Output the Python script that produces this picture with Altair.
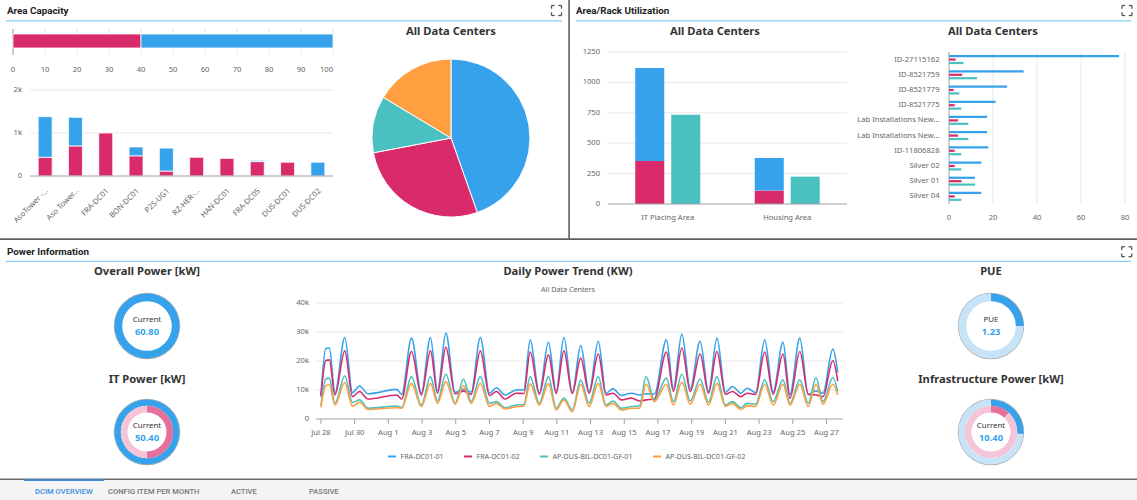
import altair as alt
import pandas as pd

# ---------------------------------------------------------------- canvas & palette
W, H = 1137, 500
BLUE = "#36a2eb"
PINK = "#d92b6b"
TEAL = "#4bc0c0"
ORANGE = "#ff9f40"
PINK_ARC = "#e6709b"
PINK_TRACK = "#f5c5d7"
BLUE_TRACK = "#c6e3f8"
GRID = "#e8e8e8"
BASE = "#a0a0a0"
LABEL = "#666666"
TITLE = "#333333"
FONT = "Noto Sans"
HEAD_FONT = "Roboto"
TICK_SIZE = 7.6

# ---------------------------------------------------------------- data
# Area Capacity: overall used / free split in percent
split_segments = ["Used", "Free"]
split_percent = [40, 60]
split_ticks = list(range(0, 101, 10))

# Area Capacity per site
site_names = ["AsoTower -...", "Aso Tower...", "FRA-DC01", "BON-DC01", "P2S-UG1",
              "RZ-HER-...", "HAN-DC01", "FRA-DC05", "DUS-DC01", "DUS-DC02"]
site_used = [435, 700, 1000, 470, 115, 435, 410, 335, 320, 0]
site_free = [945, 665, 0, 205, 535, 0, 0, 30, 0, 320]
site_ticks = [0, 1000, 2000]

# Area share by status (all data centers)
share_status = ["Free", "Occupied", "Reserved", "Planned"]
share_area = [44.6, 27.4, 11.6, 16.4]

# Area / rack utilization by area type
util_areas = ["IT Placing Area", "Housing Area"]
util_used = [354, 110]
util_free = [765, 269]
util_racks = [734, 225]
util_ticks = [0, 250, 500, 750, 1000, 1250]

# Utilization per room
room_labels = ["ID-27115162", "ID-8521759", "ID-8521779", "ID-8521775",
               "Lab Installations New...", "Lab Installations New...",
               "ID-11806828", "Silver 02", "Silver 01", "Silver 04"]
room_series = ["Area", "Used", "Racks"]
room_area = [77.3, 33.9, 26.4, 21.2, 17.3, 17.3, 17.9, 14.7, 11.8, 14.7]
room_used = [3.0, 6.0, 2.1, 2.6, 4.1, 4.1, 2.6, 2.6, 5.7, 2.6]
room_racks = [6.6, 12.7, 4.7, 5.6, 8.8, 8.8, 5.6, 5.6, 11.9, 5.6]
room_ticks = [0, 20, 40, 60, 80]

# Daily power trend (kW)
trend_series = ["FRA-DC01-01", "FRA-DC01-02", "AP-DUS-BIL-DC01-GF-01", "AP-DUS-BIL-DC01-GF-02"]
trend_time = [
    "2024-07-28T00:00", "2024-07-28T07:00", "2024-07-28T12:00", "2024-07-28T20:00",
    "2024-07-29T10:00", "2024-07-29T21:00", "2024-07-30T07:00", "2024-07-30T19:00",
    "2024-08-01T12:00", "2024-08-01T19:00", "2024-08-02T09:00", "2024-08-02T23:00",
    "2024-08-03T12:00", "2024-08-03T22:00", "2024-08-04T10:00", "2024-08-04T23:00",
    "2024-08-05T11:00", "2024-08-05T22:00", "2024-08-06T11:00", "2024-08-07T00:00",
    "2024-08-07T10:00", "2024-08-07T22:00", "2024-08-08T14:00", "2024-08-09T01:00",
    "2024-08-09T10:00", "2024-08-09T23:00", "2024-08-10T12:00", "2024-08-10T23:00",
    "2024-08-11T10:00", "2024-08-11T22:00", "2024-08-12T10:00", "2024-08-12T22:00",
    "2024-08-13T11:00", "2024-08-13T22:00", "2024-08-14T08:00", "2024-08-14T20:00",
    "2024-08-15T10:00", "2024-08-15T22:00", "2024-08-16T07:00", "2024-08-16T19:00",
    "2024-08-17T12:00", "2024-08-17T22:00", "2024-08-18T10:00", "2024-08-18T22:00",
    "2024-08-19T12:00", "2024-08-20T00:00", "2024-08-20T12:00", "2024-08-21T00:00",
    "2024-08-21T10:00", "2024-08-21T22:00", "2024-08-22T07:00", "2024-08-22T19:00",
    "2024-08-23T08:00", "2024-08-23T20:00", "2024-08-24T10:00", "2024-08-24T20:00",
    "2024-08-25T10:00", "2024-08-25T22:00", "2024-08-26T09:00", "2024-08-26T19:00",
    "2024-08-27T09:00", "2024-08-27T16:00",
]
trend_fra01 = [
    8300, 24300, 24500, 8900, 28100, 9100, 11400, 8700, 10200, 8500, 27900, 8900,
    28100, 9700, 29600, 9200, 10200, 9300, 28100, 8900, 10800, 8300, 10000, 10100,
    27300, 8900, 26500, 9500, 28100, 9200, 25300, 9500, 26800, 8900, 10400, 8100,
    8900, 8300, 8700, 8600, 27300, 10600, 29300, 10400, 26800, 9500, 27900, 9200,
    11200, 8900, 10600, 9100, 27300, 9200, 26500, 8500, 27900, 8500, 9700, 8900,
    24100, 16100,
]
trend_fra02 = [
    7700, 20200, 20400, 8300, 23500, 7700, 9500, 6900, 8300, 6900, 23300, 8300,
    23500, 8900, 24800, 8700, 9600, 8500, 23500, 8100, 9500, 6900, 8900, 8800,
    23100, 8500, 22100, 8800, 23500, 8800, 21000, 8900, 22400, 8300, 8900, 6600,
    7200, 6200, 6600, 6900, 23100, 9500, 24500, 9500, 22400, 8900, 23300, 8500,
    9500, 7700, 8900, 8500, 23100, 8500, 22400, 7200, 23300, 8500, 8300, 7700,
    20100, 13100,
]
trend_dus01 = [
    4500, 13800, 14100, 5400, 14900, 5700, 6600, 3700, 4500, 3900, 14600, 4800,
    14600, 6200, 15500, 5400, 13800, 6000, 14600, 5400, 6000, 3900, 4800, 5000,
    14600, 5400, 14600, 3700, 7200, 3100, 13400, 5400, 14600, 4800, 6200, 3700,
    4300, 4600, 14600, 6600, 14100, 6000, 15500, 6200, 13800, 5800, 14600, 4800,
    6000, 3900, 5400, 5100, 13500, 6000, 13500, 5400, 13500, 5400, 14300, 6000,
    14300, 9500,
]
trend_dus02 = [
    4000, 11500, 11800, 4800, 12600, 4300, 5800, 3300, 3900, 3700, 12300, 4300,
    12300, 5400, 12900, 5100, 11500, 5400, 12300, 4300, 5400, 3500, 4200, 4500,
    12100, 4800, 12200, 3100, 6600, 2500, 11900, 4300, 12300, 4300, 5400, 3100,
    3700, 3700, 12000, 6000, 12000, 4800, 12700, 5100, 12000, 4800, 12300, 4300,
    5400, 3300, 4600, 4300, 12000, 4800, 12000, 4800, 12000, 4300, 12000, 5100,
    12000, 8300,
]
trend_ticks = ["2024-07-28T00:00", "2024-07-30T00:00", "2024-08-01T00:00", "2024-08-03T00:00",
               "2024-08-05T00:00", "2024-08-07T00:00", "2024-08-09T00:00", "2024-08-11T00:00",
               "2024-08-13T00:00", "2024-08-15T00:00", "2024-08-17T00:00", "2024-08-19T00:00",
               "2024-08-21T00:00", "2024-08-23T00:00", "2024-08-25T00:00", "2024-08-27T00:00"]
trend_value_ticks = [0, 10000, 20000, 30000, 40000]

# Power gauges
gauge_titles = ["Overall Power [kW]", "IT Power [kW]", "PUE", "Infrastructure Power [kW]"]
gauge_captions = ["Current", "Current", "PUE", "Current"]
gauge_values = [60.80, 50.40, 1.23, 10.40]
gauge_outer_share = [1.0, 1.0, 0.25, 0.26]
gauge_inner_share = [None, 0.5, None, 0.12]

# ---------------------------------------------------------------- layout (page pixels)
SPLIT_BOX = (13, 333, 28, 54)      # left, right, top, bottom
SITE_BOX = (30, 333, 90, 176)
UTIL_BOX = (608, 847, 52, 204)
ROOM_BOX = (949, 1125, 52, 204)
TREND_BOX = (316, 843, 303, 419)
PIE_CENTER, PIE_RADIUS = (451, 138), 79
GAUGE_CENTERS = [(147, 326), (147, 432), (991, 326), (991, 432)]
GAUGE_TITLE_Y = [272, 380, 272, 380]

ONE = pd.DataFrame({"k": [0]})
layers = []


def tick_text(**kw):
    style = dict(font=FONT, fontSize=TICK_SIZE, color=LABEL, baseline="middle")
    style.update(kw)
    return style


# ---------------------------------------------------------------- panel frame: headers, dividers, tabs
frame_boxes = [  # x, x2, y, y2, fill
    (6, 562, 20.2, 21.4, "#8ccbf5"),
    (576, 1131, 20.2, 21.4, "#8ccbf5"),
    (6, 1131, 260.7, 261.9, "#8ccbf5"),
    (568.3, 569.9, 0, 239, "#606060"),
    (0, 1137, 238.3, 240, "#606060"),
    (0, 1137, 479.5, 500, "#f4f4f4"),
    (0, 1137, 478.6, 479.9, "#6a6a6a"),
    (24, 104, 479.2, 481, "#3d8ee0"),
]
for cx, cy in [(556.5, 10.5), (1127, 10.5), (1126.7, 251.7)]:
    for sx in (-1, 1):
        for sy in (-1, 1):
            ex, ey = cx + sx * 5, cy + sy * 5
            frame_boxes.append((min(ex, ex - sx * 3.2), max(ex, ex - sx * 3.2),
                                ey - 0.65, ey + 0.65, "#555555"))
            frame_boxes.append((ex - 0.65, ex + 0.65,
                                min(ey, ey - sy * 3.2), max(ey, ey - sy * 3.2), "#555555"))
frame_df = pd.DataFrame(frame_boxes, columns=["x", "x2", "y", "y2", "fill"])
layers.append(alt.Chart(frame_df).mark_rect().encode(
    x=alt.X("x:Q", scale=None, axis=None), x2="x2:Q",
    y=alt.Y("y:Q", scale=None, axis=None), y2="y2:Q",
    color=alt.Color("fill:N", scale=None)))

frame_heads = pd.DataFrame({"label": ["Area Capacity", "Area/Rack Utilization", "Power Information"],
                            "x": [7, 576, 7], "y": [10.5, 10.5, 252]})
layers.append(alt.Chart(frame_heads).mark_text(
    align="left", baseline="middle", font=HEAD_FONT, fontSize=9.8, fontWeight="bold", color="#222222"
).encode(x=alt.X("x:Q", scale=None, axis=None), y=alt.Y("y:Q", scale=None, axis=None), text="label:N"))

frame_tabs = pd.DataFrame({"label": ["DCIM OVERVIEW", "CONFIG ITEM PER MONTH", "ACTIVE", "PASSIVE"],
                           "x": [35, 108, 231, 309], "y": [491.5] * 4,
                           "ink": ["#3d8ee0", "#757575", "#757575", "#757575"]})
layers.append(alt.Chart(frame_tabs).mark_text(
    align="left", baseline="middle", font=HEAD_FONT, fontSize=7.6, fontWeight=500
).encode(x=alt.X("x:Q", scale=None, axis=None), y=alt.Y("y:Q", scale=None, axis=None), text="label:N",
         color=alt.Color("ink:N", scale=None)))

# chart titles
title_df = pd.DataFrame({
    "label": ["All Data Centers", "All Data Centers", "All Data Centers", "Daily Power Trend (KW)"]
             + gauge_titles,
    "x": [451, 715, 993, 568] + [c[0] for c in GAUGE_CENTERS],
    "y": [32, 32, 32, 272] + GAUGE_TITLE_Y,
})
layers.append(alt.Chart(title_df).mark_text(
    font=FONT, fontSize=11.2, fontWeight="bold", color=TITLE, baseline="middle"
).encode(x=alt.X("x:Q", scale=None, axis=None), y=alt.Y("y:Q", scale=None, axis=None), text="label:N"))
layers.append(alt.Chart(ONE).mark_text(text="All Data Centers", **tick_text(fontSize=7.2)).encode(
    x=alt.value(568), y=alt.value(290)))

# ---------------------------------------------------------------- Area Capacity: percent bar
L, R, T, B = SPLIT_BOX
split_x = alt.Scale(domain=[0, 100], range=[L, R], nice=False)
split_tick_df = pd.DataFrame({"v": split_ticks})
split_df = pd.DataFrame({"segment": split_segments, "percent": split_percent,
                         "rank": list(range(len(split_segments))), "track": "all"})
layers.append(alt.Chart(split_tick_df).mark_rule(color=GRID).encode(
    x=alt.X("v:Q", scale=split_x, axis=None), y=alt.value(T), y2=alt.value(B)))
layers.append(alt.Chart(split_tick_df[split_tick_df.v == 0]).mark_rule(color=BASE).encode(
    x=alt.X("v:Q", scale=split_x, axis=None), y=alt.value(T + 1), y2=alt.value(B + 1)))
layers.append(alt.Chart(split_df).mark_bar(size=14, stroke="white", strokeWidth=0.8).encode(
    x=alt.X("percent:Q", stack="zero", scale=split_x, axis=None),
    y=alt.Y("track:N", scale=alt.Scale(domain=["all"], range=[T, B], paddingInner=0, paddingOuter=0),
            axis=None),
    color=alt.Color("segment:N", scale=alt.Scale(domain=split_segments, range=[PINK, BLUE]), legend=None),
    order=alt.Order("rank:Q")))
layers.append(alt.Chart(split_tick_df[split_tick_df.v < 100]).mark_text(**tick_text()).encode(
    x=alt.X("v:Q", scale=split_x, axis=None), y=alt.value(70), text="v:Q"))
layers.append(alt.Chart(split_tick_df[split_tick_df.v == 100]).mark_text(**tick_text(align="right")).encode(
    x=alt.X("v:Q", scale=split_x, axis=None), y=alt.value(70), text="v:Q"))

# ---------------------------------------------------------------- Area Capacity: per site
L, R, T, B = SITE_BOX
site_x = alt.Scale(domain=site_names, range=[L, R], paddingInner=0, paddingOuter=0)
site_y = alt.Scale(domain=[0, 2000], range=[B, T], nice=False)
site_tick_df = pd.DataFrame({"v": site_ticks})
site_df = pd.DataFrame({
    "site": site_names * 2,
    "status": ["Used"] * len(site_names) + ["Free"] * len(site_names),
    "area": site_used + site_free,
    "rank": [0] * len(site_names) + [1] * len(site_names),
})
site_df = site_df[site_df["area"] > 0]
layers.append(alt.Chart(site_tick_df[site_tick_df.v > 0]).mark_rule(color=GRID).encode(
    y=alt.Y("v:Q", scale=site_y, axis=None), x=alt.value(L), x2=alt.value(R)))
layers.append(alt.Chart(site_df).mark_bar(size=14, stroke="white", strokeWidth=0.8).encode(
    x=alt.X("site:N", scale=site_x, axis=None),
    y=alt.Y("area:Q", stack="zero", scale=site_y, axis=None),
    color=alt.Color("status:N", scale=alt.Scale(domain=["Used", "Free"], range=[PINK, BLUE]), legend=None),
    order=alt.Order("rank:Q")))
layers.append(alt.Chart(site_tick_df[site_tick_df.v == 0]).mark_rule(color=BASE).encode(
    y=alt.Y("v:Q", scale=site_y, axis=None), x=alt.value(L), x2=alt.value(R)))
layers.append(alt.Chart(site_tick_df).mark_text(**tick_text(align="right")).encode(
    y=alt.Y("v:Q", scale=site_y, axis=None), x=alt.value(L - 8), text=alt.Text("v:Q", format="~s")))
layers.append(alt.Chart(pd.DataFrame({"site": site_names})).mark_text(
    **tick_text(align="right", angle=315, xOffset=2)).encode(
    x=alt.X("site:N", scale=site_x, axis=None), y=alt.value(B + 14), text="site:N"))

# ---------------------------------------------------------------- pie
share_df = pd.DataFrame({"status": share_status, "area": share_area, "rank": list(range(len(share_status)))})
layers.append(alt.Chart(share_df).mark_arc(outerRadius=PIE_RADIUS, stroke="white", strokeWidth=1).encode(
    theta=alt.Theta("area:Q", stack=True),
    color=alt.Color("status:N", scale=alt.Scale(domain=share_status, range=[BLUE, PINK, TEAL, ORANGE]),
                    legend=None),
    order=alt.Order("rank:Q"),
    x=alt.value(PIE_CENTER[0]), y=alt.value(PIE_CENTER[1])))

# ---------------------------------------------------------------- area / rack utilization
L, R, T, B = UTIL_BOX
util_x = alt.Scale(domain=util_areas, range=[L, R], paddingInner=0, paddingOuter=0)
util_y = alt.Scale(domain=[0, 1250], range=[B, T], nice=False)
util_tick_df = pd.DataFrame({"v": util_ticks})
util_rows = []
for a, u, f, r in zip(util_areas, util_used, util_free, util_racks):
    util_rows += [
        {"area_type": a, "group": "area", "segment": "Used", "value": u, "rank": 0},
        {"area_type": a, "group": "area", "segment": "Free", "value": f, "rank": 1},
        {"area_type": a, "group": "racks", "segment": "Racks", "value": r, "rank": 0},
    ]
util_df = pd.DataFrame(util_rows)
layers.append(alt.Chart(util_tick_df[util_tick_df.v > 0]).mark_rule(color=GRID).encode(
    y=alt.Y("v:Q", scale=util_y, axis=None), x=alt.value(L), x2=alt.value(R)))
layers.append(alt.Chart(util_df).mark_bar().encode(
    x=alt.X("area_type:N", scale=util_x, axis=None),
    xOffset=alt.XOffset("group:N", scale=alt.Scale(domain=["area", "racks"],
                                                   paddingInner=0.194, paddingOuter=0.757)),
    y=alt.Y("value:Q", stack="zero", scale=util_y, axis=None),
    color=alt.Color("segment:N", scale=alt.Scale(domain=["Used", "Free", "Racks"], range=[PINK, BLUE, TEAL]),
                    legend=None),
    order=alt.Order("rank:Q")))
layers.append(alt.Chart(util_tick_df[util_tick_df.v == 0]).mark_rule(color=BASE).encode(
    y=alt.Y("v:Q", scale=util_y, axis=None), x=alt.value(L), x2=alt.value(R)))
layers.append(alt.Chart(util_tick_df).mark_text(**tick_text(align="right")).encode(
    y=alt.Y("v:Q", scale=util_y, axis=None), x=alt.value(L - 8), text="v:Q"))
layers.append(alt.Chart(pd.DataFrame({"area_type": util_areas})).mark_text(**tick_text()).encode(
    x=alt.X("area_type:N", scale=util_x, axis=None), y=alt.value(B + 14), text="area_type:N"))

# ---------------------------------------------------------------- per-room horizontal bars
L, R, T, B = ROOM_BOX
room_rows = list(range(len(room_labels)))
room_y = alt.Scale(domain=room_rows, range=[T, B], paddingInner=0, paddingOuter=0)
room_x = alt.Scale(domain=[0, 80], range=[L, R], nice=False)
room_tick_df = pd.DataFrame({"v": room_ticks})
room_df = pd.DataFrame({
    "row": room_rows * 3,
    "series": sum([[s] * len(room_labels) for s in room_series], []),
    "value": room_area + room_used + room_racks,
})
layers.append(alt.Chart(room_tick_df[room_tick_df.v > 0]).mark_rule(color=GRID).encode(
    x=alt.X("v:Q", scale=room_x, axis=None), y=alt.value(T), y2=alt.value(B)))
layers.append(alt.Chart(room_tick_df[room_tick_df.v == 0]).mark_rule(color=BASE).encode(
    x=alt.X("v:Q", scale=room_x, axis=None), y=alt.value(T), y2=alt.value(B)))
layers.append(alt.Chart(room_df).mark_bar().encode(
    y=alt.Y("row:O", scale=room_y, axis=None),
    yOffset=alt.YOffset("series:N", scale=alt.Scale(domain=room_series, paddingInner=0.35, paddingOuter=0.9)),
    x=alt.X("value:Q", scale=room_x, axis=None),
    color=alt.Color("series:N", scale=alt.Scale(domain=room_series, range=[BLUE, PINK, TEAL]), legend=None)))
layers.append(alt.Chart(pd.DataFrame({"row": room_rows, "label": room_labels})).mark_text(
    **tick_text(align="right")).encode(
    y=alt.Y("row:O", scale=room_y, axis=None), x=alt.value(L - 9.5), text="label:N"))
layers.append(alt.Chart(room_tick_df).mark_text(**tick_text()).encode(
    x=alt.X("v:Q", scale=room_x, axis=None), y=alt.value(B + 14), text="v:Q"))

# ---------------------------------------------------------------- daily power trend
L, R, T, B = TREND_BOX
trend_x = alt.Scale(domain=[alt.DateTime(year=2024, month=7, date=27, hours=17),
                            alt.DateTime(year=2024, month=8, date=27, hours=23, minutes=30)],
                    range=[L, R])
trend_y = alt.Scale(domain=[0, 40000], range=[B, T], nice=False)
trend_vtick_df = pd.DataFrame({"v": trend_value_ticks})
trend_ttick_df = pd.DataFrame({"t": trend_ticks})
trend_df = pd.DataFrame({
    "time": trend_time * 4,
    "series": sum([[s] * len(trend_time) for s in trend_series], []),
    "kw": trend_fra01 + trend_fra02 + trend_dus01 + trend_dus02,
})
layers.append(alt.Chart(trend_vtick_df[trend_vtick_df.v > 0]).mark_rule(color=GRID).encode(
    y=alt.Y("v:Q", scale=trend_y, axis=None), x=alt.value(L), x2=alt.value(R)))
layers.append(alt.Chart(trend_vtick_df[trend_vtick_df.v == 0]).mark_rule(color=BASE).encode(
    y=alt.Y("v:Q", scale=trend_y, axis=None), x=alt.value(L), x2=alt.value(R)))
layers.append(alt.Chart(trend_ttick_df).mark_rule(color=BASE).encode(
    x=alt.X("t:T", scale=trend_x, axis=None), y=alt.value(B), y2=alt.value(B + 5)))
layers.append(alt.Chart(trend_df).mark_line(interpolate="monotone", strokeWidth=1.6).encode(
    x=alt.X("time:T", scale=trend_x, axis=None),
    y=alt.Y("kw:Q", scale=trend_y, axis=None),
    color=alt.Color("series:N", sort=trend_series,
                    scale=alt.Scale(domain=trend_series, range=[BLUE, PINK, TEAL, ORANGE]),
                    legend=alt.Legend(title=None, orient="none", legendX=387, legendY=451.5,
                                      direction="horizontal", symbolType="stroke", symbolSize=64,
                                      symbolStrokeWidth=2, labelFont=FONT, labelFontSize=7.1,
                                      labelColor=LABEL, columnPadding=16, labelOffset=3.5,
                                      padding=0))))
layers.append(alt.Chart(trend_vtick_df).mark_text(**tick_text(align="right")).encode(
    y=alt.Y("v:Q", scale=trend_y, axis=None), x=alt.value(L - 7), text=alt.Text("v:Q", format="~s")))
layers.append(alt.Chart(trend_ttick_df).mark_text(**tick_text()).encode(
    x=alt.X("t:T", scale=trend_x, axis=None), y=alt.value(B + 14), text=alt.Text("t:T", format="%b %-d")))


# ---------------------------------------------------------------- power gauges
def ring(share, r_out, r_in, on, off, center):
    df = pd.DataFrame({"part": ["on", "off"], "share": [share, 1 - share], "rank": [0, 1]})
    return alt.Chart(df).mark_arc(radius=r_out, radius2=r_in).encode(
        theta=alt.Theta("share:Q", stack=True, scale=alt.Scale(domain=[0, 1])),
        color=alt.Color("part:N", scale=alt.Scale(domain=["on", "off"], range=[on, off]), legend=None),
        order=alt.Order("rank:Q"),
        x=alt.value(center[0]), y=alt.value(center[1]),
    )


for i, center in enumerate(GAUGE_CENTERS):
    outer, inner = gauge_outer_share[i], gauge_inner_share[i]
    layers.append(ring(1.0, 33.2, 32.2, "#a9a9a9", "#a9a9a9", center))
    if inner is None:
        layers.append(ring(outer, 32.5, 24.8, BLUE, BLUE_TRACK, center))
    else:
        layers.append(ring(outer, 32.5, 26.2, BLUE, BLUE_TRACK, center))
        layers.append(ring(inner, 26.2, 19.5, PINK_ARC, PINK_TRACK, center))

gauge_df = pd.DataFrame({
    "caption": gauge_captions,
    "reading": [f"{v:.2f}" for v in gauge_values],
    "x": [c[0] for c in GAUGE_CENTERS],
    "y": [c[1] for c in GAUGE_CENTERS],
})
layers.append(alt.Chart(gauge_df).mark_text(font=FONT, fontSize=7.9, color="#333333", baseline="middle",
                                            dy=-6).encode(
    x=alt.X("x:Q", scale=None, axis=None), y=alt.Y("y:Q", scale=None, axis=None), text="caption:N"))
layers.append(alt.Chart(gauge_df).mark_text(font=FONT, fontSize=9.4, fontWeight="bold", color=BLUE,
                                            baseline="middle", dy=5.5).encode(
    x=alt.X("x:Q", scale=None, axis=None), y=alt.Y("y:Q", scale=None, axis=None), text="reading:N"))

# ---------------------------------------------------------------- assemble
chart = alt.layer(*layers).resolve_scale(
    x="independent", y="independent", color="independent", theta="independent",
    xOffset="independent", yOffset="independent",
).properties(
    width=W, height=H, padding=0, autosize=alt.AutoSizeParams(type="none"),
).configure_view(stroke="transparent")

chart.save("out.html", embed_options={"renderer": "svg", "actions": False})
